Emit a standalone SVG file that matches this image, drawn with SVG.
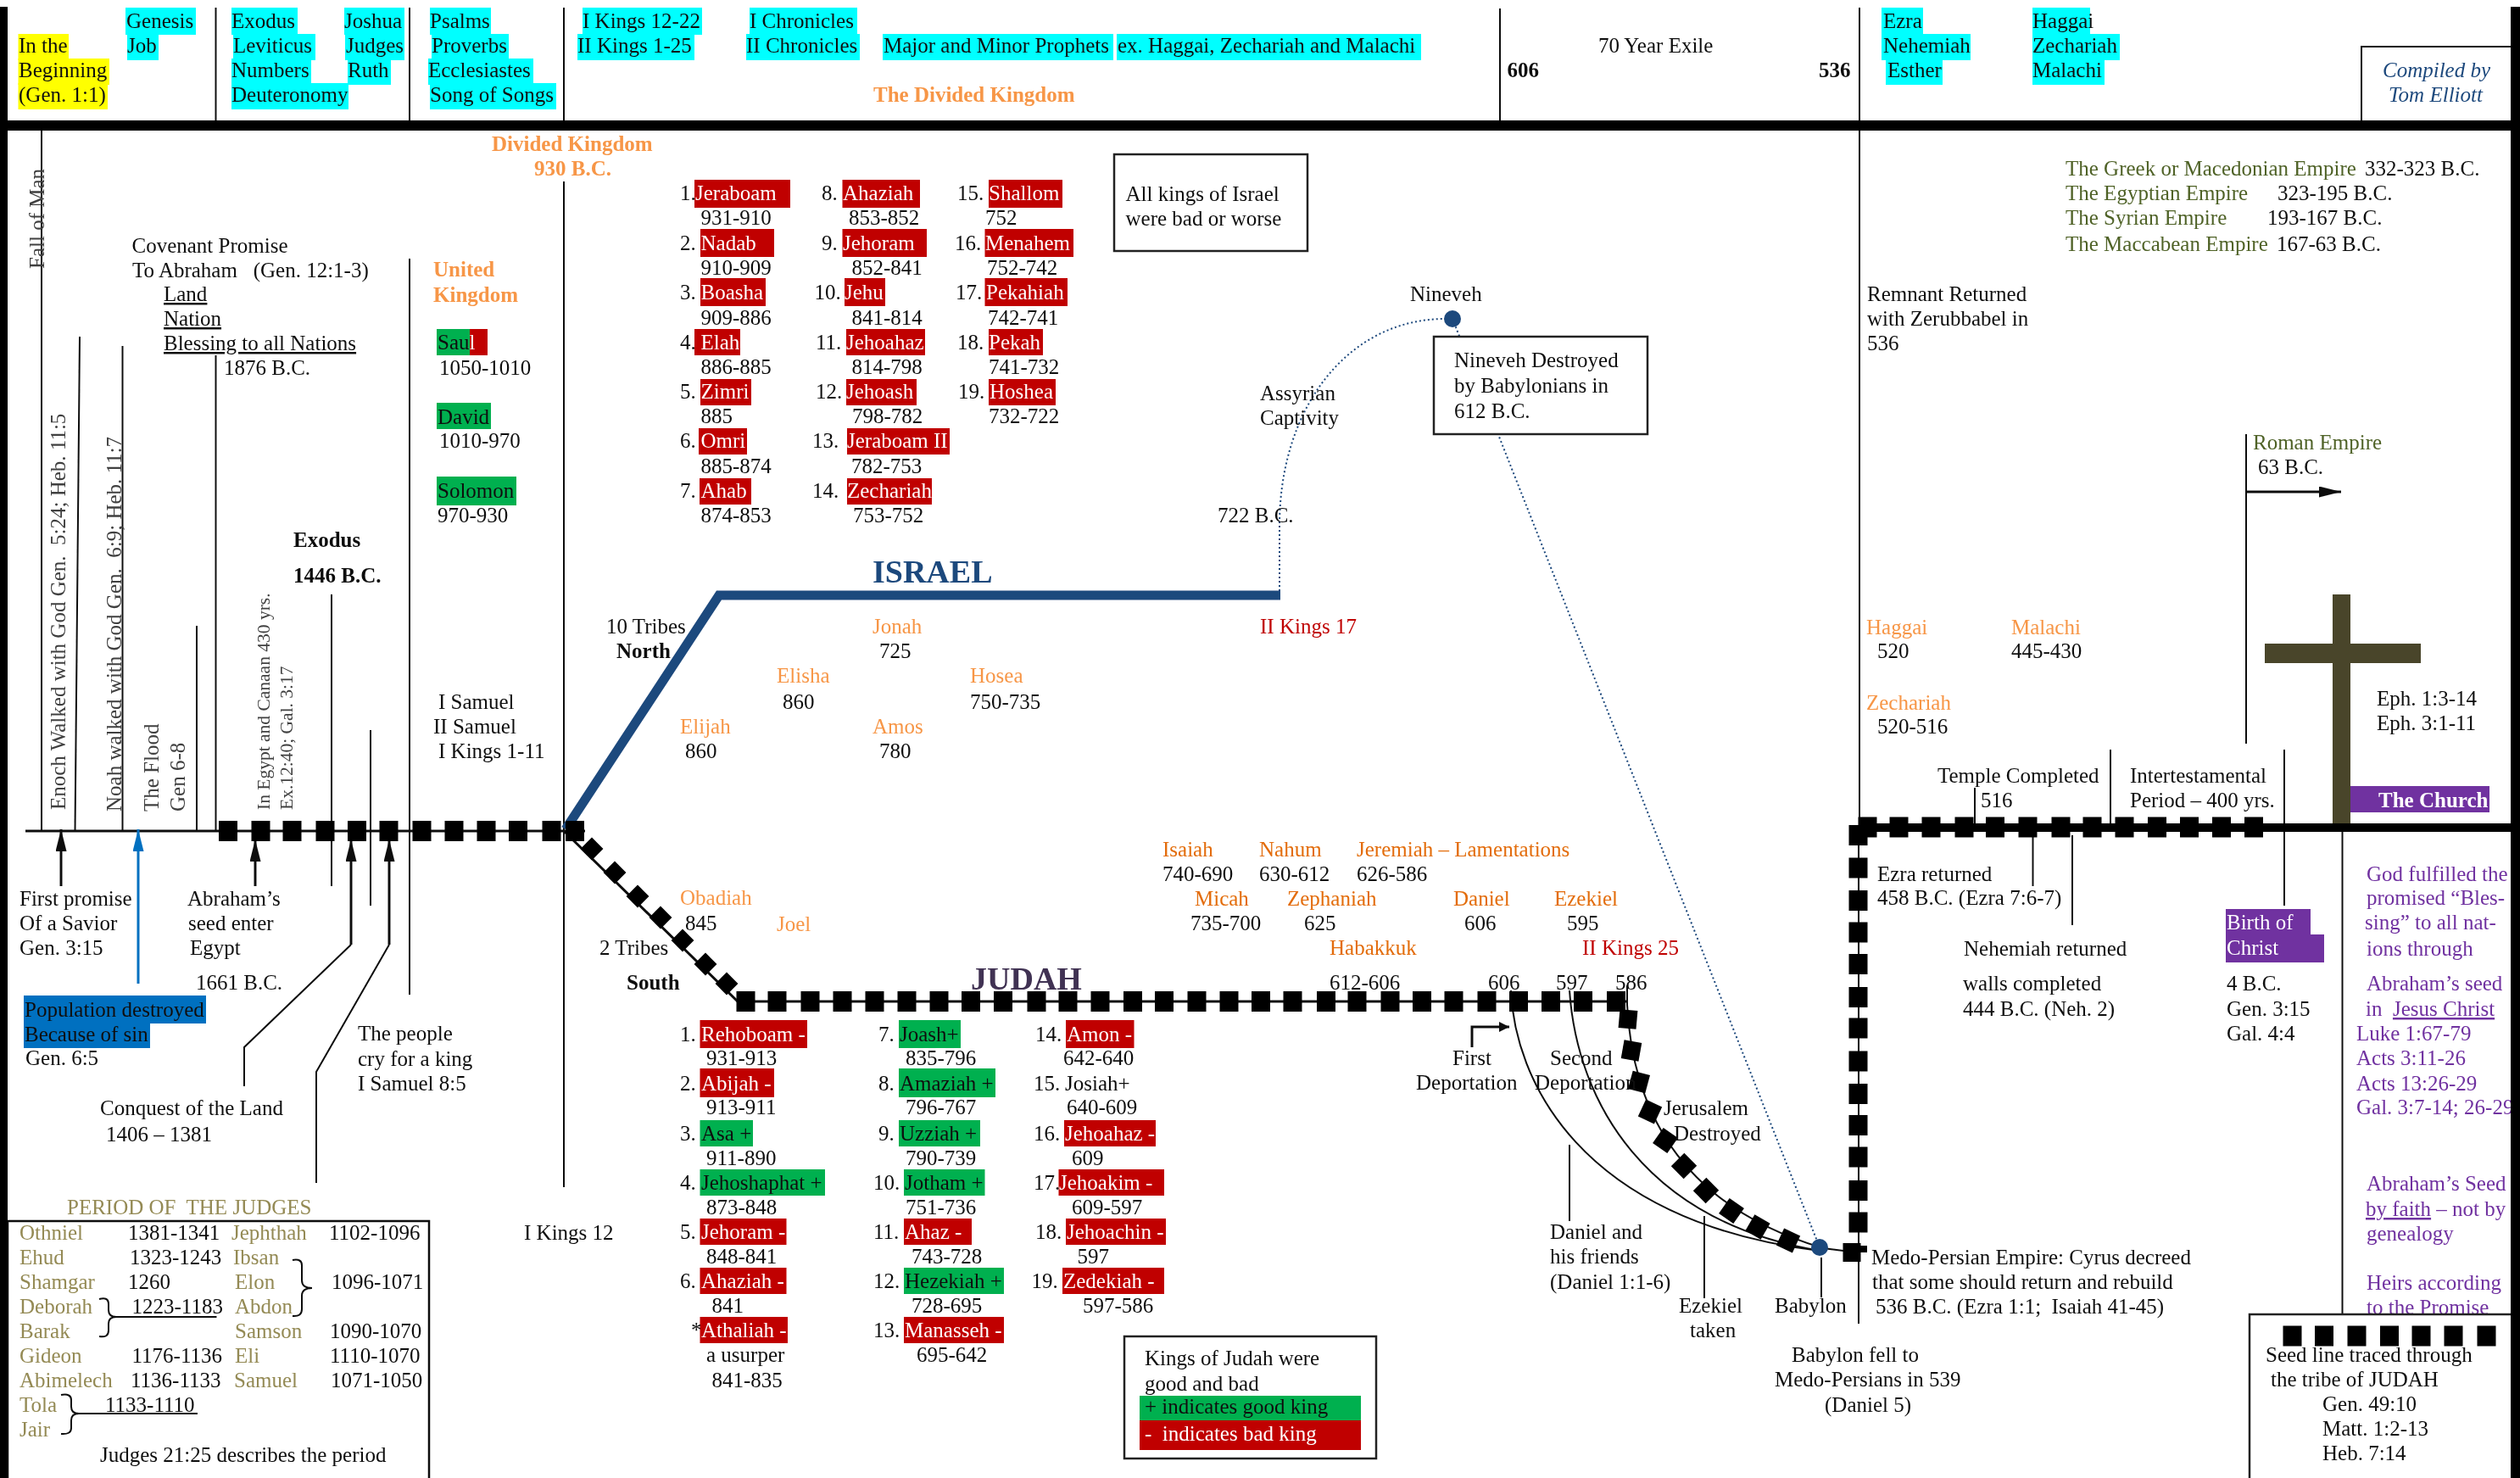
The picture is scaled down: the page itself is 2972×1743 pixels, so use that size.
<svg xmlns="http://www.w3.org/2000/svg" width="2972" height="1743" viewBox="0 0 2972 1743">
<style>
text{font-family:"Liberation Serif","Times New Roman",serif;font-size:25px;fill:#111;white-space:pre}
.o{fill:#F79646}.d{fill:#E36C09}.r{fill:#C00000}.g{fill:#4F6228}.p{fill:#7030A0}.k{fill:#948A54}.w{fill:#fff}.n{fill:#1F497D}.j{fill:#403152}
.b{font-weight:bold}.i{font-style:italic}.u{text-decoration:underline}
.big{font-size:38px;font-weight:bold}.sm{font-size:21.5px}.gy{fill:#404040}
.cy{fill:#0ff}.ye{fill:#ff0}.gr{fill:#00B050}.rd{fill:#C00000}.pu{fill:#7030A0}.bl{fill:#0070C0}.bk{fill:#000}.cr{fill:#4A452A}
.l{fill:none;stroke:#111;stroke-width:2}.t{fill:none;stroke:#111;stroke-width:3}
.box{fill:#fff;stroke:#222;stroke-width:2.5}
.dot{fill:none;stroke:#1F497D;stroke-width:2;stroke-dasharray:2 3}
</style>
<defs>
<filter id="soft" filterUnits="userSpaceOnUse" x="0" y="0" width="2972" height="1743"><feGaussianBlur stdDeviation="0.6"/></filter>
<rect id="s" x="-11" y="-12" width="22" height="24"/>
<rect id="m" x="-10.500" y="-11" width="21" height="22" fill="#000"/>
<rect id="q" x="-9.500" y="-9.500" width="19" height="19" fill="#000" transform="rotate(45)"/>
<marker id="ah" markerUnits="userSpaceOnUse" markerWidth="28" markerHeight="14" refX="26" refY="6.500" orient="auto"><path d="M0,0L26,6.500L0,13z" fill="#111"/></marker>
<marker id="ab" markerUnits="userSpaceOnUse" markerWidth="28" markerHeight="14" refX="26" refY="6.500" orient="auto"><path d="M0,0L26,6.500L0,13z" fill="#0070C0"/></marker>
<marker id="as" markerUnits="userSpaceOnUse" markerWidth="14" markerHeight="14" refX="12" refY="6" orient="auto"><path d="M0,0L12,6L0,12z" fill="#111"/></marker>
</defs>
<rect width="2972" height="1743" fill="#fff"/>
<g filter="url(#soft)">
<g id="connectors">
<path class="l" d="M254.500,9V142M483,9V142M665,9V142M1769,10V142M2193,9V976M2785,142V55H2961"/>
<path class="l" d="M49,154V980M94,397L88.500,980M144.500,408V980M254.500,419V980M232,738V980M391,701V1045M437,861V1068M483,305V1173M665,214V1400"/>
<path class="t" d="M30,980H690M665,980L870,1181H1918"/>
<path d="M667,978L848,702H1510" fill="none" stroke="#1F497D" stroke-width="11"/>
<path class="dot" d="M1509,697V620C1509,480 1590,376 1705,376"/>
<path class="dot" d="M1713,376L2146,1471"/>
<path class="l" d="M1782,1168C1786,1270 1860,1440 2146,1475M1851,1168C1860,1300 1940,1440 2146,1475"/>
<path class="l" d="M1919,1162V1185C1925,1300 1975,1420 2150,1472L2190,1477"/>
<path class="l" d="M1851,1350V1440M2010,1434V1531M2148,1483V1530M2192,975V1561"/>
<path class="t" d="M1736,1235V1211H1780" marker-end="url(#as)"/>
<path class="l" d="M2649,512V877M2489,884V971M2694,884V1068M2329,929V971M2397.500,985V1045M2444,985V1091M2762.500,981V1560"/>
<path class="t" d="M2650,580H2761" marker-end="url(#ah)"/>
<path class="t" d="M72,1045V978" marker-end="url(#ah)"/>
<path d="M163,1160V978" fill="none" stroke="#0070C0" stroke-width="3" marker-end="url(#ab)"/>
<path class="t" d="M301,1045V990" marker-end="url(#ah)"/>
<path class="l" d="M288,1281V1235L414,1114"/><path class="t" d="M414,1114V990" marker-end="url(#ah)"/>
<path class="l" d="M373,1395V1264L459,1114"/><path class="t" d="M459,1114V990" marker-end="url(#ah)"/>
<path class="l" d="M136,1553H255.500M93,1667H233"/>
<path class="l" d="M117,1532Q128,1529 128,1538V1545Q128,1553 137,1553Q128,1553 128,1561V1569Q128,1578 117,1576"/>
<path class="l" d="M345,1486Q356,1484 356,1492V1510Q356,1519 368,1519Q356,1519 356,1528V1544Q356,1553 345,1552"/>
<path class="l" d="M72,1645Q84,1643 84,1651V1659Q84,1667 93,1667Q84,1667 84,1675V1684Q84,1692 72,1691"/>
</g>

<g id="timeline-markers" class="bk">
<use href="#s" x="269" y="980"/><use href="#s" x="307.500" y="980"/><use href="#s" x="344.500" y="980"/><use href="#s" x="383.500" y="980"/><use href="#s" x="421" y="980"/><use href="#s" x="458.500" y="980"/><use href="#s" x="497.500" y="980"/><use href="#s" x="535.500" y="980"/><use href="#s" x="573.500" y="980"/><use href="#s" x="611" y="980"/><use href="#s" x="650.500" y="980"/><use href="#s" x="678" y="980"/>
<use href="#q" x="698" y="1001"/><use href="#q" x="725" y="1029"/><use href="#q" x="752" y="1057"/><use href="#q" x="779" y="1082"/><use href="#q" x="805" y="1109"/><use href="#q" x="832" y="1137"/><use href="#q" x="857" y="1160"/>
<use href="#s" x="879.500" y="1181"/><use href="#s" x="916.500" y="1181"/><use href="#s" x="955.500" y="1181"/><use href="#s" x="993.500" y="1181"/><use href="#s" x="1031.500" y="1181"/><use href="#s" x="1069.500" y="1181"/><use href="#s" x="1107.500" y="1181"/><use href="#s" x="1145" y="1181"/><use href="#s" x="1183" y="1181"/><use href="#s" x="1222.500" y="1181"/><use href="#s" x="1259.500" y="1181"/><use href="#s" x="1297.500" y="1181"/><use href="#s" x="1336" y="1181"/><use href="#s" x="1373" y="1181"/><use href="#s" x="1411.500" y="1181"/><use href="#s" x="1449.500" y="1181"/><use href="#s" x="1487" y="1181"/><use href="#s" x="1524.500" y="1181"/><use href="#s" x="1564" y="1181"/><use href="#s" x="1600.500" y="1181"/><use href="#s" x="1639.500" y="1181"/><use href="#s" x="1677" y="1181"/><use href="#s" x="1714.500" y="1181"/><use href="#s" x="1753.500" y="1181"/><use href="#s" x="1791" y="1181"/><use href="#s" x="1829" y="1181"/><use href="#s" x="1867" y="1181"/><use href="#s" x="1906" y="1181"/>
<use href="#m" transform="translate(1920 1202) rotate(5)"/><use href="#m" transform="translate(1924 1239) rotate(10)"/><use href="#m" transform="translate(1933 1276) rotate(15)"/><use href="#m" transform="translate(1946 1311) rotate(25)"/><use href="#m" transform="translate(1964 1345) rotate(35)"/><use href="#m" transform="translate(1986 1375) rotate(45)"/><use href="#m" transform="translate(2012 1404) rotate(45)"/><use href="#m" transform="translate(2042 1428) rotate(35)"/><use href="#m" transform="translate(2073 1447) rotate(30)"/><use href="#m" transform="translate(2109 1463) rotate(25)"/><use href="#m" transform="translate(2184 1477)"/>
<rect x="2182" y="1469" width="20" height="8"/>
<rect x="2193" y="971" width="768" height="10"/>
<use href="#s" x="2202.500" y="975.500"/><use href="#s" x="2239.500" y="975.500"/><use href="#s" x="2277.500" y="975.500"/><use href="#s" x="2316.500" y="975.500"/><use href="#s" x="2353" y="975.500"/><use href="#s" x="2391.500" y="975.500"/><use href="#s" x="2430.500" y="975.500"/><use href="#s" x="2467.500" y="975.500"/><use href="#s" x="2505.500" y="975.500"/><use href="#s" x="2544" y="975.500"/><use href="#s" x="2582" y="975.500"/><use href="#s" x="2620" y="975.500"/><use href="#s" x="2658" y="975.500"/>
<use href="#s" x="2191.500" y="985"/><use href="#s" x="2191.500" y="1023.500"/><use href="#s" x="2191.500" y="1062"/><use href="#s" x="2191.500" y="1099.500"/><use href="#s" x="2191.500" y="1137"/><use href="#s" x="2191.500" y="1176"/><use href="#s" x="2191.500" y="1212.500"/><use href="#s" x="2191.500" y="1251.500"/><use href="#s" x="2191.500" y="1290"/><use href="#s" x="2191.500" y="1327"/><use href="#s" x="2191.500" y="1364.500"/><use href="#s" x="2191.500" y="1404"/><use href="#s" x="2191.500" y="1441.500"/>
</g>

<g id="circles" fill="#1F497D"><circle cx="1713" cy="376" r="10"/><circle cx="2146" cy="1471" r="10"/></g>

<g id="cross" class="cr"><rect x="2751" y="701" width="21" height="270"/><rect x="2671" y="759" width="184" height="23"/></g>

<g id="header">
<rect class="ye" x="21.500" y="40" width="59.500" height="31"/><rect class="ye" x="21.500" y="69" width="107.500" height="31"/><rect class="ye" x="21.500" y="98" width="105.500" height="31"/>
<text x="22" y="62">In the</text><text x="22" y="91">Beginning</text><text x="22" y="120">(Gen. 1:1)</text>
<rect class="cy" x="148" y="9" width="83" height="32"/><rect class="cy" x="150" y="40" width="37" height="31"/>
<text x="149" y="33">Genesis</text><text x="150" y="62">Job</text>
<rect class="cy" x="273" y="9" width="78" height="32"/><rect class="cy" x="275" y="40" width="97" height="31"/><rect class="cy" x="273" y="69" width="94" height="31"/><rect class="cy" x="273" y="98" width="138" height="31"/>
<rect class="cy" x="406" y="9" width="71" height="32"/><rect class="cy" x="407" y="40" width="70" height="31"/><rect class="cy" x="410" y="69" width="51" height="31"/>
<text x="273" y="33">Exodus</text><text x="275" y="62">Leviticus</text><text x="273" y="91">Numbers</text><text x="273" y="120">Deuteronomy</text>
<text x="406" y="33">Joshua</text><text x="408" y="62">Judges</text><text x="410" y="91">Ruth</text>
<rect class="cy" x="507" y="9" width="72" height="32"/><rect class="cy" x="509" y="40" width="91" height="31"/><rect class="cy" x="505" y="69" width="124" height="31"/><rect class="cy" x="507" y="98" width="149" height="31"/>
<text x="507" y="33">Psalms</text><text x="509" y="62">Proverbs</text><text x="505" y="91">Ecclesiastes</text><text x="507" y="120">Song of Songs</text>
<rect class="cy" x="687" y="9" width="141" height="32"/><rect class="cy" x="681" y="40" width="138" height="31"/>
<text x="687" y="33">I Kings 12-22</text><text x="681" y="62">II Kings 1-25</text>
<rect class="cy" x="884" y="9" width="127" height="32"/><rect class="cy" x="880" y="40" width="134" height="31"/>
<text x="884" y="33">I Chronicles</text><text x="880" y="62">II Chronicles</text>
<rect class="cy" x="1041" y="40" width="272" height="31"/><rect class="cy" x="1317" y="40" width="359" height="31"/>
<text x="1042" y="62">Major and Minor Prophets</text><text x="1318" y="62">ex. Haggai, Zechariah and Malachi</text>
<text class="o b" x="1030" y="120">The Divided Kingdom</text>
<text x="1885" y="62">70 Year Exile</text><text class="b" x="1777.500" y="91">606</text><text class="b" x="2145" y="91">536</text>
<rect class="cy" x="2219" y="9" width="49" height="32"/><rect class="cy" x="2219" y="40" width="105" height="31"/><rect class="cy" x="2224" y="69" width="67" height="31"/>
<text x="2221" y="33">Ezra</text><text x="2221" y="62">Nehemiah</text><text x="2226" y="91">Esther</text>
<rect class="cy" x="2397" y="9" width="68" height="32"/><rect class="cy" x="2397" y="40" width="103" height="31"/><rect class="cy" x="2397" y="69" width="85" height="31"/>
<text x="2397" y="33">Haggai</text><text x="2397" y="62">Zechariah</text><text x="2397" y="91">Malachi</text>
<text class="n i" x="2810" y="91">Compiled by</text><text class="n i" x="2817" y="120">Tom Elliott</text>
</g>

<g id="early-history">
<text class="gy" transform="translate(52 317) rotate(-90)">Fall of Man</text>
<text class="gy" transform="translate(76.500 955) rotate(-90)">Enoch Walked with God Gen.  5:24; Heb. 11:5</text>
<text class="gy" transform="translate(142.500 957) rotate(-90)">Noah walked with God Gen.  6:9; Heb. 11:7</text>
<text class="gy" transform="translate(186.500 957) rotate(-90)">The Flood</text>
<text class="gy" transform="translate(217.500 957) rotate(-90)">Gen 6-8</text>
<text class="gy sm" transform="translate(318 955) rotate(-90)">In Egypt and Canaan 430 yrs.</text>
<text class="gy sm" transform="translate(344.500 955) rotate(-90)">Ex.12:40; Gal. 3:17</text>
<text x="155.500" y="298">Covenant Promise</text><text x="156" y="327">To Abraham   (Gen. 12:1-3)</text>
<text class="u" x="193" y="355">Land</text><text class="u" x="193" y="384">Nation</text><text class="u" x="193" y="413">Blessing to all Nations</text>
<text x="264" y="442">1876 B.C.</text>
<text class="b" x="346" y="645">Exodus</text><text class="b" x="346" y="687">1446 B.C.</text>
<text x="23" y="1068">First promise</text><text x="23" y="1097">Of a Savior</text><text x="23" y="1126">Gen. 3:15</text>
<text x="221" y="1068">Abraham’s</text><text x="222" y="1097">seed enter</text><text x="224" y="1126">Egypt</text><text x="231" y="1167">1661 B.C.</text>
<rect class="bl" x="28" y="1174" width="215" height="33"/><rect class="bl" x="28" y="1207" width="149" height="29"/>
<text x="29" y="1199">Population destroyed</text><text x="29" y="1228">Because of sin</text><text x="30" y="1256">Gen. 6:5</text>
<text x="118" y="1315">Conquest of the Land</text><text x="125" y="1346">1406 – 1381</text>
<text x="422" y="1227">The people</text><text x="422" y="1257">cry for a king</text><text x="422" y="1286">I Samuel 8:5</text>
</g>

<g id="united-kingdom">
<text class="o b" x="580" y="178">Divided Kingdom</text><text class="o b" x="630" y="207">930 B.C.</text>
<text class="o b" x="511" y="326">United</text><text class="o b" x="511" y="356">Kingdom</text>
<rect class="gr" x="515" y="388" width="39" height="31"/><rect class="rd" x="554" y="388" width="21" height="31"/>
<text x="516" y="412">Sau<tspan class="w">l</tspan></text><text x="518" y="442">1050-1010</text>
<rect class="gr" x="515" y="475" width="64" height="31"/><text x="516" y="500">David</text><text x="518" y="528">1010-970</text>
<rect class="gr" x="515" y="562" width="94" height="34"/><text x="516" y="587">Solomon</text><text x="516" y="616">970-930</text>
<text x="517" y="836">I Samuel</text><text x="511" y="865">II Samuel</text><text x="517" y="894">I Kings 1-11</text>
<text x="618" y="1462">I Kings 12</text>
</g>

<g id="judges-box">
<text class="k" x="79" y="1432">PERIOD OF  THE JUDGES</text>
<rect x="9" y="1440" width="497" height="320" fill="none" stroke="#111" stroke-width="2.500"/>
<text class="k" x="23" y="1462">Othniel</text><text x="151" y="1462">1381-1341</text><text class="k" x="273" y="1462">Jephthah</text><text x="388" y="1462">1102-1096</text>
<text class="k" x="23" y="1491">Ehud</text><text x="153" y="1491">1323-1243</text><text class="k" x="275" y="1491">Ibsan</text>
<text class="k" x="23" y="1520">Shamgar</text><text x="151" y="1520">1260</text><text class="k" x="277" y="1520">Elon</text><text x="391" y="1520">1096-1071</text>
<text class="k" x="23" y="1549">Deborah</text><text x="155.500" y="1549">1223-1183</text><text class="k" x="277" y="1549">Abdon</text>
<text class="k" x="23" y="1578">Barak</text><text class="k" x="277" y="1578">Samson</text><text x="389" y="1578">1090-1070</text>
<text class="k" x="23" y="1607">Gideon</text><text x="155.500" y="1607">1176-1136</text><text class="k" x="277" y="1607">Eli</text><text x="389" y="1607">1110-1070</text>
<text class="k" x="23" y="1636">Abimelech</text><text x="154" y="1636">1136-1133</text><text class="k" x="276" y="1636">Samuel</text><text x="390" y="1636">1071-1050</text>
<text class="k" x="23" y="1665">Tola</text><text x="124" y="1665">1133-1110</text>
<text class="k" x="23" y="1694">Jair</text>
<text x="118" y="1724">Judges 21:25 describes the period</text>
</g>

<g id="israel">
<text class="n big" x="1029" y="687">ISRAEL</text>
<text x="715" y="747">10 Tribes</text><text class="b" x="727" y="776">North</text>
<text class="o" x="1029" y="747">Jonah</text><text x="1037" y="776">725</text>
<text class="o" x="916" y="805">Elisha</text><text x="923" y="836">860</text>
<text class="o" x="1144" y="805">Hosea</text><text x="1144" y="836">750-735</text>
<text class="o" x="802" y="865">Elijah</text><text x="808" y="894">860</text>
<text class="o" x="1029" y="865">Amos</text><text x="1037" y="894">780</text>
<text x="1436" y="616">722 B.C.</text><text class="r" x="1486" y="747">II Kings 17</text>
<text x="1486" y="472">Assyrian</text><text x="1486" y="501">Captivity</text>
<text x="1663" y="355">Nineveh</text>
</g>

<g id="israel-kings">
<rect class="rd" x="819" y="212" width="113" height="33"/><rect class="rd" x="826" y="270" width="87" height="33"/><rect class="rd" x="826" y="328" width="77" height="33"/><rect class="rd" x="819" y="388" width="54" height="31"/><rect class="rd" x="826" y="447" width="60" height="31"/><rect class="rd" x="824" y="505" width="57" height="31"/><rect class="rd" x="825" y="564" width="61" height="31"/>
<text x="802" y="236">1.</text><text class="w" x="820" y="236">Jeraboam</text><text x="826.500" y="265">931-910</text>
<text x="802" y="295">2.</text><text class="w" x="826.500" y="295">Nadab</text><text x="826.500" y="324">910-909</text>
<text x="802" y="353">3.</text><text class="w" x="826.500" y="353">Boasha</text><text x="826.500" y="383">909-886</text>
<text x="802" y="412">4.</text><text class="w" x="826.500" y="412">Elah</text><text x="826.500" y="441">886-885</text>
<text x="802" y="470">5.</text><text class="w" x="826.500" y="470">Zimri</text><text x="826.500" y="499">885</text>
<text x="802" y="528">6.</text><text class="w" x="826.500" y="528">Omri</text><text x="826.500" y="558">885-874</text>
<text x="802" y="587">7.</text><text class="w" x="826.500" y="587">Ahab</text><text x="826.500" y="616">874-853</text>
<rect class="rd" x="993.500" y="212" width="91.500" height="33"/><rect class="rd" x="993.500" y="270" width="99.500" height="33"/><rect class="rd" x="996" y="328" width="48" height="33"/><rect class="rd" x="998" y="388" width="93" height="31"/><rect class="rd" x="998" y="447" width="83" height="31"/><rect class="rd" x="999" y="505" width="121" height="31"/><rect class="rd" x="999" y="564" width="100" height="31"/>
<text x="969" y="236">8.</text><text class="w" x="994" y="236">Ahaziah</text><text x="1001" y="265">853-852</text>
<text x="969" y="295">9.</text><text class="w" x="994" y="295">Jehoram</text><text x="1004.500" y="324">852-841</text>
<text x="960.500" y="353">10.</text><text class="w" x="996" y="353">Jehu</text><text x="1004.500" y="383">841-814</text>
<text x="962" y="412">11.</text><text class="w" x="998" y="412">Jehoahaz</text><text x="1004.500" y="441">814-798</text>
<text x="962" y="470">12.</text><text class="w" x="998" y="470">Jehoash</text><text x="1005" y="499">798-782</text>
<text x="958" y="528">13.</text><text class="w" x="999" y="528">Jeraboam II</text><text x="1004" y="558">782-753</text>
<text x="958" y="587">14.</text><text class="w" x="999" y="587">Zechariah</text><text x="1006" y="616">753-752</text>
<rect class="rd" x="1166" y="212" width="87" height="33"/><rect class="rd" x="1161.500" y="270" width="104.500" height="33"/><rect class="rd" x="1161.500" y="328" width="97.500" height="33"/><rect class="rd" x="1166" y="388" width="64" height="31"/><rect class="rd" x="1166" y="447" width="79" height="31"/>
<text x="1129" y="236">15.</text><text class="w" x="1166" y="236">Shallom</text><text x="1162" y="265">752</text>
<text x="1126" y="295">16.</text><text class="w" x="1162" y="295">Menahem</text><text x="1164" y="324">752-742</text>
<text x="1127" y="353">17.</text><text class="w" x="1163" y="353">Pekahiah</text><text x="1165" y="383">742-741</text>
<text x="1129" y="412">18.</text><text class="w" x="1166" y="412">Pekah</text><text x="1166" y="441">741-732</text>
<text x="1130" y="470">19.</text><text class="w" x="1167" y="470">Hoshea</text><text x="1166" y="499">732-722</text>
</g>

<g id="israel-note"><rect class="box" x="1314" y="182" width="228" height="114"/><text x="1327.500" y="237">All kings of Israel</text><text x="1327.500" y="266">were bad or worse</text></g>
<g id="nineveh-note"><rect class="box" x="1691" y="397" width="252" height="115"/><text x="1715" y="433">Nineveh Destroyed</text><text x="1715" y="463">by Babylonians in</text><text x="1715" y="493">612 B.C.</text></g>

<g id="judah">
<text class="big j" x="1145" y="1167">JUDAH</text>
<text x="707" y="1126">2 Tribes</text><text class="b" x="739" y="1167">South</text>
<text class="o" x="802" y="1067">Obadiah</text><text x="808" y="1097">845</text><text class="o" x="916" y="1098">Joel</text>
<text class="d" x="1371" y="1010">Isaiah</text><text x="1371" y="1039">740-690</text>
<text class="d" x="1485" y="1010">Nahum</text><text x="1485" y="1039">630-612</text>
<text class="d" x="1600" y="1010">Jeremiah – Lamentations</text><text x="1600" y="1039">626-586</text>
<text class="d" x="1409" y="1068">Micah</text><text x="1404" y="1097">735-700</text>
<text class="d" x="1518" y="1068">Zephaniah</text><text x="1538" y="1097">625</text>
<text class="d" x="1714" y="1068">Daniel</text><text x="1727" y="1097">606</text>
<text class="d" x="1833" y="1068">Ezekiel</text><text x="1848" y="1097">595</text>
<text class="d" x="1568" y="1126">Habakkuk</text><text x="1568" y="1167">612-606</text>
<text class="r" x="1866" y="1126">II Kings 25</text>
<text x="1755" y="1167">606</text><text x="1835" y="1167">597</text><text x="1905" y="1167">586</text>
<text x="1713" y="1256">First</text><text x="1670" y="1285">Deportation</text>
<text x="1828" y="1256">Second</text><text x="1810" y="1285">Deportation</text>
<text x="1962" y="1315">Jerusalem</text><text x="1974" y="1345">Destroyed</text>
<text x="1828" y="1461">Daniel and</text><text x="1828" y="1490">his friends</text><text x="1828" y="1520">(Daniel 1:1-6)</text>
<text x="1980" y="1548">Ezekiel</text><text x="1993" y="1577">taken</text><text x="2093" y="1548">Babylon</text>
<text x="2113" y="1606">Babylon fell to</text><text x="2093" y="1635">Medo-Persians in 539</text><text x="2152" y="1665">(Daniel 5)</text>
<text x="2207" y="1491">Medo-Persian Empire: Cyrus decreed</text><text x="2208" y="1520">that some should return and rebuild</text><text x="2212" y="1549">536 B.C. (Ezra 1:1;  Isaiah 41-45)</text>
</g>

<g id="judah-kings">
<rect class="rd" x="825.500" y="1203" width="126.500" height="33"/><rect class="rd" x="825.500" y="1260" width="87.500" height="34"/><rect class="gr" x="825.500" y="1321" width="62.500" height="31"/><rect class="gr" x="825.500" y="1379" width="147.500" height="31"/><rect class="rd" x="825.500" y="1437" width="102" height="31"/><rect class="rd" x="825.500" y="1495" width="102" height="31"/><rect class="rd" x="825.500" y="1553" width="103.500" height="31"/>
<text x="802" y="1228">1.</text><text class="w" x="827" y="1228">Rehoboam -</text><text x="833" y="1256">931-913</text>
<text x="802" y="1286">2.</text><text class="w" x="827" y="1286">Abijah -</text><text x="833" y="1314">913-911</text>
<text x="802" y="1345">3.</text><text x="827" y="1345">Asa +</text><text x="833" y="1374">911-890</text>
<text x="802" y="1403">4.</text><text x="827" y="1403">Jehoshaphat +</text><text x="833" y="1432">873-848</text>
<text x="802" y="1461">5.</text><text class="w" x="827" y="1461">Jehoram -</text><text x="833" y="1490">848-841</text>
<text x="802" y="1519">6.</text><text class="w" x="827" y="1519">Ahaziah -</text><text x="839.500" y="1548">841</text>
<text x="815" y="1577">*</text><text class="w" x="827" y="1577">Athaliah -</text><text x="833" y="1606">a usurper</text><text x="839.500" y="1636">841-835</text>
<rect class="gr" x="1060" y="1203" width="73" height="33"/><rect class="gr" x="1060" y="1260" width="114" height="34"/><rect class="gr" x="1060" y="1321" width="96" height="31"/><rect class="gr" x="1066" y="1379" width="95.500" height="31"/><rect class="rd" x="1066" y="1437" width="80" height="31"/><rect class="gr" x="1066" y="1495" width="118" height="31"/><rect class="rd" x="1066" y="1553" width="118" height="31"/>
<text x="1036" y="1228">7.</text><text x="1061" y="1228">Joash+</text><text x="1068" y="1256">835-796</text>
<text x="1036" y="1286">8.</text><text x="1061" y="1286">Amaziah +</text><text x="1068" y="1314">796-767</text>
<text x="1036" y="1345">9.</text><text x="1061" y="1345">Uzziah +</text><text x="1068" y="1374">790-739</text>
<text x="1030" y="1403">10.</text><text x="1067" y="1403">Jotham +</text><text x="1068" y="1432">751-736</text>
<text x="1030" y="1461">11.</text><text class="w" x="1067" y="1461">Ahaz -</text><text x="1075" y="1490">743-728</text>
<text x="1030" y="1519">12.</text><text x="1067" y="1519">Hezekiah +</text><text x="1075" y="1548">728-695</text>
<text x="1030" y="1577">13.</text><text class="w" x="1067" y="1577">Manasseh -</text><text x="1081" y="1606">695-642</text>
<rect class="rd" x="1257" y="1203" width="80.500" height="33"/><rect class="rd" x="1255" y="1321" width="108" height="31"/><rect class="rd" x="1248.500" y="1379" width="124.500" height="31"/><rect class="rd" x="1257" y="1437" width="118" height="31"/><rect class="rd" x="1253" y="1495" width="120" height="31"/>
<text x="1221" y="1228">14.</text><text class="w" x="1258" y="1228">Amon -</text><text x="1254" y="1256">642-640</text>
<text x="1219" y="1286">15.</text><text x="1256" y="1286">Josiah+</text><text x="1258" y="1314">640-609</text>
<text x="1219" y="1345">16.</text><text class="w" x="1256" y="1345">Jehoahaz -</text><text x="1264" y="1374">609</text>
<text x="1219" y="1403">17.</text><text class="w" x="1249" y="1403">Jehoakim -</text><text x="1264" y="1432">609-597</text>
<text x="1221" y="1461">18.</text><text class="w" x="1258" y="1461">Jehoachin -</text><text x="1270.500" y="1490">597</text>
<text x="1216.500" y="1519">19.</text><text class="w" x="1254" y="1519">Zedekiah -</text><text x="1277" y="1548">597-586</text>
</g>

<g id="judah-legend">
<rect class="box" x="1326" y="1576" width="297" height="144"/>
<text x="1350" y="1610">Kings of Judah were</text><text x="1350" y="1640">good and bad</text>
<rect class="gr" x="1344" y="1646" width="261" height="29"/><rect class="rd" x="1344" y="1675" width="261" height="35"/>
<text x="1350" y="1667">+ indicates good king</text><text class="w" x="1350" y="1699">-  indicates bad king</text>
</g>

<g id="empires">
<text class="g" x="2436" y="207">The Greek or Macedonian Empire</text><text x="2789" y="207">332-323 B.C.</text>
<text class="g" x="2436" y="236">The Egyptian Empire</text><text x="2686" y="236">323-195 B.C.</text>
<text class="g" x="2436" y="265">The Syrian Empire</text><text x="2674" y="265">193-167 B.C.</text>
<text class="g" x="2436" y="296">The Maccabean Empire</text><text x="2685" y="296">167-63 B.C.</text>
<text class="g" x="2657" y="530">Roman Empire</text><text x="2663" y="559">63 B.C.</text>
</g>

<g id="return">
<text x="2202" y="355">Remnant Returned</text><text x="2202" y="384">with Zerubbabel in</text><text x="2202" y="413">536</text>
<text class="o" x="2201" y="748">Haggai</text><text x="2214" y="776">520</text>
<text class="o" x="2372" y="748">Malachi</text><text x="2372" y="776">445-430</text>
<text class="o" x="2201" y="837">Zechariah</text><text x="2214" y="865">520-516</text>
<text x="2285" y="923">Temple Completed</text><text x="2336" y="952">516</text>
<text x="2512" y="923">Intertestamental</text><text x="2512" y="952">Period – 400 yrs.</text>
<text x="2214" y="1039">Ezra returned</text><text x="2214" y="1067">458 B.C. (Ezra 7:6-7)</text>
<text x="2316" y="1127">Nehemiah returned</text><text x="2315" y="1168">walls completed</text><text x="2315" y="1198">444 B.C. (Neh. 2)</text>
<text x="2803" y="832">Eph. 1:3-14</text><text x="2803" y="861">Eph. 3:1-11</text>
</g>

<g id="church">
<rect class="pu" x="2772" y="927" width="164" height="31"/><text class="w b" x="2805" y="952">The Church</text>
<rect class="pu" x="2625" y="1072" width="100" height="31"/><rect class="pu" x="2625" y="1102" width="116" height="33"/>
<text class="w" x="2626" y="1096">Birth of</text><text class="w" x="2626" y="1126">Christ</text>
<text x="2626" y="1168">4 B.C.</text><text x="2626" y="1198">Gen. 3:15</text><text x="2626" y="1227">Gal. 4:4</text>
<text class="p" x="2791" y="1039">God fulfilled the</text><text class="p" x="2791" y="1067">promised “Bles-</text><text class="p" x="2789" y="1096">sing” to all nat-</text><text class="p" x="2791" y="1127">ions through</text>
<text class="p" x="2791" y="1168">Abraham’s seed</text><text class="p" x="2790" y="1198">in  <tspan class="u">Jesus Christ</tspan></text>
<text class="p" x="2779" y="1227">Luke 1:67-79</text><text class="p" x="2779" y="1256">Acts 3:11-26</text><text class="p" x="2779" y="1286">Acts 13:26-29</text><text class="p" x="2779" y="1314">Gal. 3:7-14; 26-29</text>
<text class="p" x="2791" y="1404">Abraham’s Seed</text><text class="p" x="2790" y="1434"><tspan class="u">by faith</tspan> – not by</text><text class="p" x="2791" y="1463">genealogy</text>
<text class="p" x="2791" y="1521">Heirs according</text><text class="p" x="2791" y="1550">to the Promise</text>
</g>

<g id="seed-legend">
<rect class="box" x="2653" y="1550" width="320" height="200"/>
<g class="bk"><use href="#s" x="2703.500" y="1575.500"/><use href="#s" x="2741" y="1575.500"/><use href="#s" x="2779.500" y="1575.500"/><use href="#s" x="2818" y="1575.500"/><use href="#s" x="2855.500" y="1575.500"/><use href="#s" x="2893.500" y="1575.500"/><use href="#s" x="2932.500" y="1575.500"/></g>
<text x="2672" y="1606">Seed line traced through</text><text x="2678" y="1635">the tribe of JUDAH</text><text x="2739" y="1664">Gen. 49:10</text><text x="2739" y="1693">Matt. 1:2-13</text><text x="2739" y="1722">Heb. 7:14</text>
</g>

<g id="frame" class="bk">
<rect x="0" y="142" width="2972" height="12"/><rect x="0" y="8" width="9" height="1735"/><rect x="2961" y="8" width="11" height="1735"/>
</g>
</g>
</svg>
